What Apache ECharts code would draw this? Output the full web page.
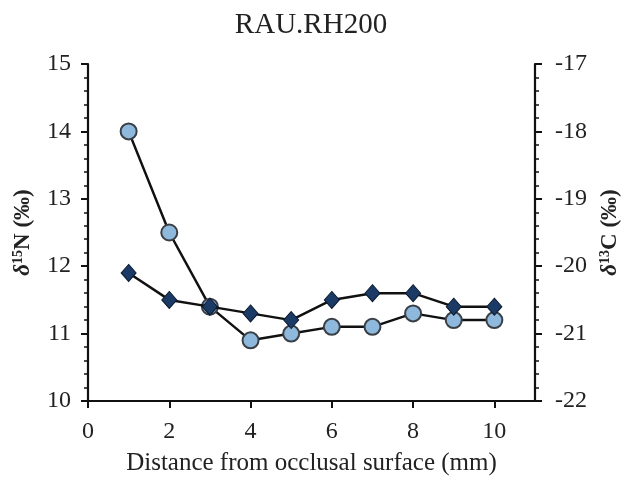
<!DOCTYPE html>
<html>
<head>
<meta charset="utf-8">
<script src="https://cdn.jsdelivr.net/npm/echarts@6/dist/echarts.min.js"></script>
<style>
html,body{margin:0;padding:0;background:#fff;}
#chart{width:622px;height:478px;}
</style>
</head>
<body>
<div id="chart"></div>
<script>
var titleText = "RAU.RH200";
var distances = [1, 2, 3, 4, 5, 6, 7, 8, 9, 10];
var xTickValues = [0, 2, 4, 6, 8, 10];
// δ15N (left axis, diamonds)
var d15N = [11.9, 11.5, 11.4, 11.3, 11.2, 11.5, 11.6, 11.6, 11.4, 11.4];
// δ13C (right axis, circles)
var d13C = [-18.0, -19.5, -20.6, -21.1, -21.0, -20.9, -20.9, -20.7, -20.8, -20.8];

function pairs(xs, ys) { return xs.map(function (x, i) { return [x, ys[i]]; }); }

var FONT = "'Liberation Serif', 'Times New Roman', serif";
var nameRich = {
  d: {fontFamily: FONT, fontSize: 23, fontWeight: 'bold', fontStyle: 'italic', color: '#222'},
  s: {fontFamily: FONT, fontSize: 14, fontWeight: 'bold', color: '#222', verticalAlign: 'bottom', padding: [0, 0, 10, 0]},
  n: {fontFamily: FONT, fontSize: 23, fontWeight: 'bold', color: '#222'}
};
var chart = echarts.init(document.getElementById('chart'), null, {renderer: 'canvas'});
chart.setOption({
  animation: false,
  backgroundColor: '#fff',
  title: {
    text: titleText, left: 'center', top: 6,
    textStyle: {fontFamily: FONT, fontSize: 29, fontWeight: 'normal', color: '#222'}
  },
  grid: {left: 88, right: 87, top: 64, bottom: 77, containLabel: false, outerBoundsMode: 'none'},
  xAxis: {
    type: 'value', min: 0, max: 11, interval: 2,
    name: 'Distance from occlusal surface (mm)', nameLocation: 'middle', nameGap: 50,
    nameTextStyle: {fontFamily: FONT, fontSize: 25, color: '#222'},
    axisLine: {show: true, onZero: false, lineStyle: {color: '#111', width: 2.2}},
    axisTick: {show: true, length: 7, customValues: xTickValues, lineStyle: {color: '#111', width: 2}},
    axisLabel: {customValues: xTickValues, margin: 19, fontFamily: FONT, fontSize: 24, color: '#222'},
    splitLine: {show: false}
  },
  yAxis: [{
    type: 'value', position: 'left', min: 10, max: 15, interval: 1,
    name: '{d|δ}{s|15}{n|N (‰)}', nameLocation: 'middle', nameGap: 53, nameRotate: 90,
    nameTextStyle: {rich: nameRich},
    axisLine: {show: true, onZero: false, lineStyle: {color: '#111', width: 2.2}},
    axisTick: {show: true, length: 7, lineStyle: {color: '#111', width: 2}},
    minorTick: {show: true, splitNumber: 5, length: 4, lineStyle: {color: '#111', width: 1.5}},
    axisLabel: {margin: 17, fontFamily: FONT, fontSize: 24, color: '#222'},
    splitLine: {show: false}
  }, {
    type: 'value', position: 'right', min: -22, max: -17, interval: 1,
    name: '{d|δ}{s|13}{n|C (‰)}', nameLocation: 'middle', nameGap: 51, nameRotate: 90,
    nameTextStyle: {rich: nameRich},
    axisLine: {show: true, onZero: false, lineStyle: {color: '#111', width: 2.2}},
    axisTick: {show: true, length: 7, lineStyle: {color: '#111', width: 2}},
    minorTick: {show: true, splitNumber: 5, length: 4, lineStyle: {color: '#111', width: 1.5}},
    axisLabel: {margin: 20, fontFamily: FONT, fontSize: 24, color: '#222'},
    splitLine: {show: false}
  }],
  series: [{
    name: 'δ13C', type: 'line', yAxisIndex: 1, data: pairs(distances, d13C),
    symbol: 'circle', symbolSize: 16,
    lineStyle: {color: '#111', width: 2.5},
    itemStyle: {color: '#8fb9dc', borderColor: '#3a3f45', borderWidth: 2},
    z: 2
  }, {
    name: 'δ15N', type: 'line', yAxisIndex: 0, data: pairs(distances, d15N),
    symbol: 'diamond', symbolSize: [15, 17],
    lineStyle: {color: '#111', width: 2.5},
    itemStyle: {color: '#1c3a66', borderColor: '#0b1a30', borderWidth: 1},
    z: 3
  }]
});
</script>
</body>
</html>
